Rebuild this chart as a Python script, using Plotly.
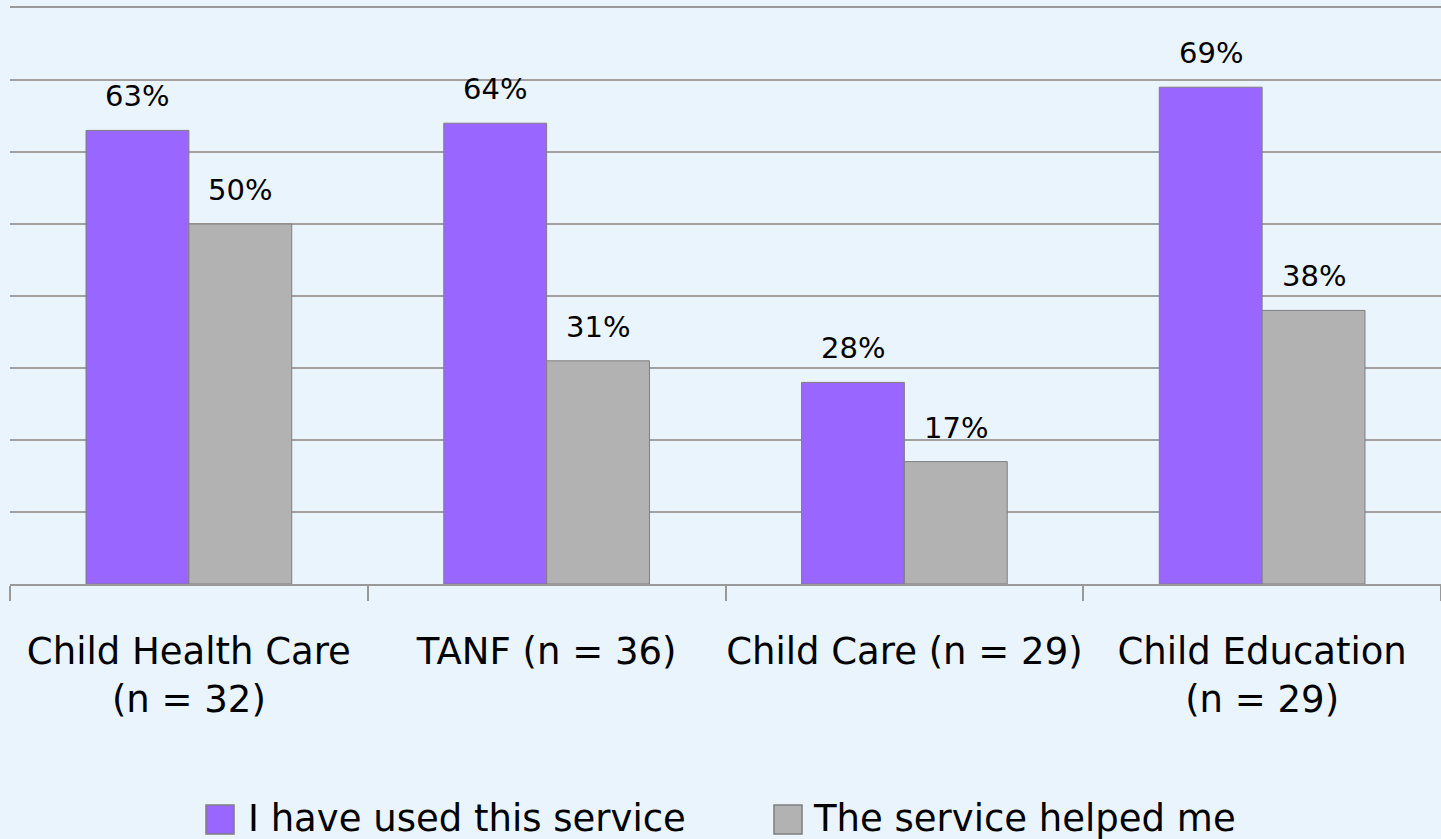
import plotly.graph_objects as go

categories = ["Child Health Care<br>(n = 32)", "TANF (n = 36)", "Child Care (n = 29)", "Child Education<br>(n = 29)"]
used = [0.63, 0.64, 0.28, 0.69]
helped = [0.50, 0.31, 0.17, 0.38]
series_names = ["I have used this service", "The service helped me"]
colors = ["#9966FF", "#B2B2B2"]

FONT = "DejaVu Sans"
BG = "#EAF4FD"

fig = go.Figure()
for vals, name, col in zip([used, helped], series_names, colors):
    fig.add_trace(go.Bar(
        x=categories, y=vals, name=name,
        marker=dict(color=col, line=dict(color="#7F7F7F", width=1)),
        showlegend=False, hoverinfo="x+y",
    ))

# value labels above bars
BAR_HALF = 51.5
for vals, sign in zip([used, helped], [-1, 1]):
    for cat, v in zip(categories, vals):
        fig.add_annotation(x=cat, y=v, xref="x", yref="y", showarrow=False,
                           text=f"{round(v*100)}%", xshift=sign * BAR_HALF,
                           yanchor="middle", yshift=34,
                           font=dict(family=FONT, size=29, color="#000000"))

fig.update_layout(
    width=1441, height=839,
    paper_bgcolor=BG, plot_bgcolor=BG,
    margin=dict(l=10, r=0, t=8, b=255, autoexpand=False),
    barmode="group", bargap=0.425, bargroupgap=0,
    font=dict(family=FONT, color="#000000"),
    xaxis=dict(
        type="category", tickson="boundaries", ticks="outside", ticklen=15,
        tickcolor="#999999", tickwidth=1.5, showline=True, mirror=True,
        linecolor="#999999", linewidth=1.5, tickangle=0, automargin=False,
        tickfont=dict(family=FONT, size=37, color="#000000"),
        ticklabelstandoff=34, showgrid=False,
    ),
    yaxis=dict(
        range=[0, 0.8], dtick=0.1, showticklabels=False, showgrid=True,
        gridcolor="#A0A0A0", gridwidth=1.5, zeroline=False, showline=False,
        automargin=False,
    ),
    showlegend=False,
)

# custom legend
W, H, L, T = 1431.0, 576.0, 10.0, 8.0
def px(xp):
    return (xp - L) / W
def py(yp):
    return (T + H - yp) / H

legend_items = [(206, 246), (774, 811)]
for (sx, tx), name, col in zip(legend_items, series_names, colors):
    fig.add_shape(type="rect", xref="paper", yref="paper",
                  x0=px(sx), x1=px(sx + 28), y0=py(834), y1=py(805),
                  fillcolor=col, line=dict(color="#7F7F7F", width=1.5))
    fig.add_annotation(xref="paper", yref="paper", x=px(tx), y=py(818),
                       xanchor="left", yanchor="middle", showarrow=False,
                       text=name, font=dict(family=FONT, size=37, color="#000000"))

fig.write_html("out.html", config={"displayModeBar": False},
               post_script="document.body.style.margin='0';document.body.style.overflow='hidden';")
